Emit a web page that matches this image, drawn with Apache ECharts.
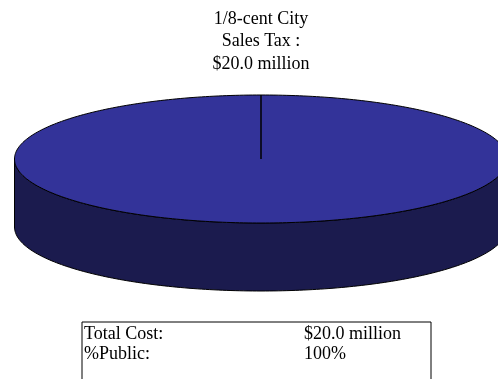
<!DOCTYPE html>
<html>
<head>
<meta charset="utf-8">
<script src="https://cdn.jsdelivr.net/npm/echarts@6/dist/echarts.min.js"></script>
<style>
html,body{margin:0;padding:0;background:#fff;}
#chart{width:498px;height:379px;}
</style>
</head>
<body>
<div id="chart"></div>
<script>
// ---- data ----
var sliceNames = ['1/8-cent City Sales Tax'];
var sliceLabelLines = [['1/8-cent City', 'Sales Tax :']];
var sliceValues = [20.0]; // $ million
var tableLabels = ['Total Cost:', '%Public:'];
var tableValues = ['$20.0 million', '100%'];

// ---- layout / style ----
var CX = 261, CY = 159, RX = 246.5, RY = 64, DEPTH = 68;
var TOP_COLOR = '#333399', SIDE_COLOR = '#1b1b4e';
var FONT = '"Liberation Serif", "Times New Roman", serif';

var total = sliceValues.reduce(function (a, b) { return a + b; }, 0);
var starts = [];
(function () { var acc = 0; for (var i = 0; i < sliceValues.length; i++) { starts.push(acc); acc += sliceValues[i]; } })();

function pt(theta, dy) {
  var r = theta * Math.PI / 180;
  return [CX + RX * Math.sin(r), CY - RY * Math.cos(r) + (dy || 0)];
}
function arcPts(a0, a1, dy) {
  var pts = [], n = Math.max(2, Math.ceil(Math.abs(a1 - a0) / 1));
  for (var k = 0; k <= n; k++) pts.push(pt(a0 + (a1 - a0) * k / n, dy));
  return pts;
}

var chart = echarts.init(document.getElementById('chart'), null, {renderer: 'canvas'});

var data = sliceValues.map(function (v, i) { return {name: sliceNames[i], value: [v, starts[i]]}; });

chart.setOption({
  animation: false,
  backgroundColor: '#ffffff',
  series: [{
    type: 'custom',
    coordinateSystem: 'none',
    data: data,
    renderItem: function (params, api) {
      var v = api.value(0), s = api.value(1);
      var a0 = s / total * 360, a1 = (s + v) / total * 360;
      var children = [];
      // side (front visible part: 90..270 deg)
      var s0 = Math.max(a0, 90), s1 = Math.min(a1, 270);
      if (s1 > s0) {
        var topArc = arcPts(s0, s1, 0);
        var botArc = arcPts(s1, s0, DEPTH);
        children.push({
          type: 'polygon',
          shape: {points: topArc.concat(botArc)},
          style: {fill: SIDE_COLOR, stroke: '#000', lineWidth: 1}
        });
      }
      // top face
      var pts = [[CX, CY]].concat(arcPts(a0, a1, 0));
      children.push({
        type: 'polygon',
        shape: {points: pts},
        style: {fill: TOP_COLOR, stroke: '#000', lineWidth: 1}
      });
      // label
      var idx = params.dataIndex;
      var lines = sliceLabelLines[idx].concat(['$' + v.toFixed(1) + ' million']);
      children.push({
        type: 'text',
        x: CX, y: 8,
        style: {
          text: lines.join('\n'),
          fill: '#000',
          font: '18px ' + FONT,
          lineHeight: 22.5,
          align: 'center',
          verticalAlign: 'top'
        }
      });
      return {type: 'group', children: children};
    }
  }],
  graphic: [
    {type: 'rect', shape: {x: 82, y: 322, width: 349, height: 80},
     style: {fill: '#fff', stroke: '#000', lineWidth: 1}}
  ].concat(tableLabels.map(function (t, i) {
    return {type: 'text', x: 84, y: 334 + i * 20.5,
      style: {text: t, font: '18px ' + FONT, fill: '#000', verticalAlign: 'middle'}};
  })).concat(tableValues.map(function (t, i) {
    return {type: 'text', x: 304, y: 334 + i * 20.5,
      style: {text: t, font: '18px ' + FONT, fill: '#000', verticalAlign: 'middle'}};
  }))
});
</script>
</body>
</html>
